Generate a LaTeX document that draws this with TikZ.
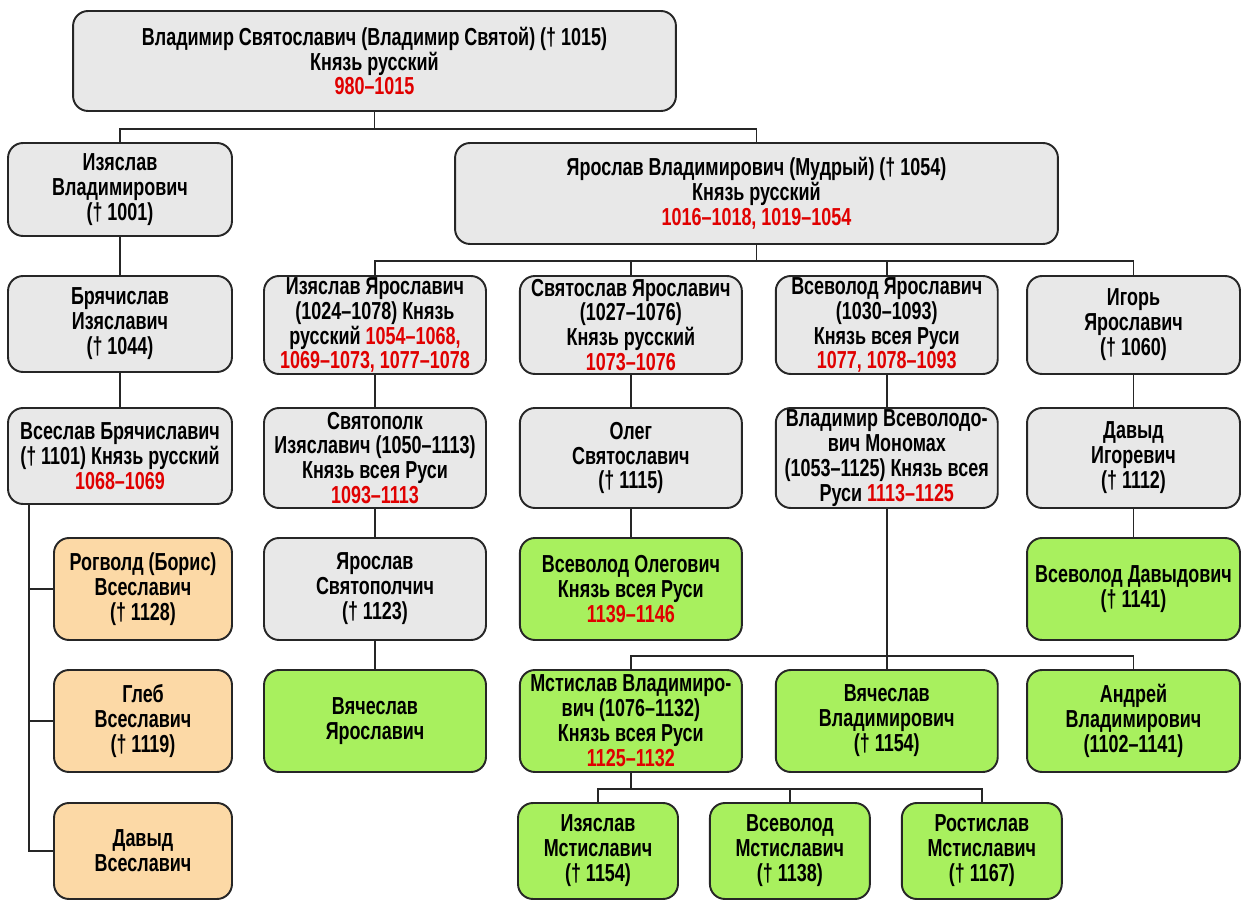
\documentclass[tikz,border=0pt]{standalone}
\usepackage{fontspec}
\setmainfont{Liberation Sans}[FakeStretch=0.73]
\usepackage{tikz}
\usetikzlibrary{positioning}
\definecolor{kinred}{HTML}{E00000}
\definecolor{kingrey}{HTML}{E8E8E8}
\definecolor{kinpeach}{HTML}{FCD9A6}
\definecolor{kingreen}{HTML}{A8F05E}
\definecolor{kinline}{HTML}{262626}
\newcommand{\reign}[1]{\textcolor{kinred}{#1}}

\begin{document}
\begin{tikzpicture}[
    x=0.02cm, y=-0.02cm,
    greybox/.style={rectangle, draw=kinline, fill=kingrey, line width=1.1pt, rounded corners=0.3cm, align=center, inner xsep=1pt, inner ysep=0pt, font=\bfseries\fontsize{14}{14.2}\selectfont},
    peachbox/.style={greybox, fill=kinpeach},
    greenbox/.style={greybox, fill=kingreen},
    link/.style={draw=kinline, line width=1.1pt}
]
\useasboundingbox (0,0) rectangle (1244,901);

% Row 1: Vladimir
\node[greybox, minimum width=12.06cm, minimum height=2cm] (vlad) at (374.5,61) {Владимир Святославич (Владимир Святой) († 1015)\\Князь русский\\\reign{980–1015}};

% Row 2: his sons
\node[greybox, minimum width=4.48cm, minimum height=1.86cm] (izV) at (120,189.5) {Изяслав\\Владимирович\\(† 1001)};
\node[greybox, minimum width=12.06cm, minimum height=2.02cm] (yar) at (756.5,193.5) {Ярослав Владимирович (Мудрый) († 1054)\\Князь русский\\\reign{1016–1018, 1019–1054}};

% Row 3
\node[greybox, minimum width=4.48cm, minimum height=1.92cm] (bry) at (120,324) {Брячислав\\Изяславич\\(† 1044)};
\node[greybox, minimum width=4.44cm, minimum height=1.96cm] (izYa) at (375,325) {Изяслав Ярославич\\(1024–1078) Князь\\русский \reign{1054–1068,}\\\reign{1069–1073, 1077–1078}};
\node[greybox, minimum width=4.44cm, minimum height=1.96cm, right=0.64cm of izYa] (svy) {Святослав Ярославич\\(1027–1076)\\Князь русский\\\reign{1073–1076}};
\node[greybox, minimum width=4.44cm, minimum height=1.96cm, right=0.64cm of svy] (vsev) {Всеволод Ярославич\\(1030–1093)\\Князь всея Руси\\\reign{1077, 1078–1093}};
\node[greybox, minimum width=4.26cm, minimum height=1.96cm] (igor) at (1133.5,325) {Игорь\\Ярославич\\(† 1060)};

% Row 4
\node[greybox, minimum width=4.48cm, minimum height=1.92cm] (vses) at (120,456) {Всеслав Брячиславич\\(† 1101) Князь русский\\\reign{1068–1069}};
\node[greybox, minimum width=4.44cm, minimum height=2cm] (svp) at (375,458) {Святополк\\Изяславич (1050–1113)\\Князь всея Руси\\\reign{1093–1113}};
\node[greybox, minimum width=4.44cm, minimum height=2cm, right=0.64cm of svp] (oleg) {Олег\\Святославич\\(† 1115)};
\node[greybox, minimum width=4.44cm, minimum height=2cm, right=0.64cm of oleg] (mono) {Владимир Всеволодо-\\вич Мономах\\(1053–1125) Князь всея\\Руси \reign{1113–1125}};
\node[greybox, minimum width=4.26cm, minimum height=2cm] (davI) at (1133.5,458) {Давыд\\Игоревич\\(† 1112)};

% Row 5
\node[peachbox, minimum width=3.56cm, minimum height=2.04cm] (rog) at (143,589) {Рогволд (Борис)\\Всеславич\\(† 1128)};
\node[greybox, minimum width=4.44cm, minimum height=2.04cm] (yarS) at (375,589) {Ярослав\\Святополчич\\(† 1123)};
\node[greenbox, minimum width=4.44cm, minimum height=2.04cm, right=0.64cm of yarS] (vsO) {Всеволод Олегович\\Князь всея Руси\\\reign{1139–1146}};
\node[greenbox, minimum width=4.26cm, minimum height=2.04cm] (vsD) at (1133.5,589) {Всеволод Давыдович\\(† 1141)};

% Row 6
\node[peachbox, minimum width=3.56cm, minimum height=2.04cm] (gleb) at (143,721) {Глеб\\Всеславич\\(† 1119)};
\node[greenbox, minimum width=4.44cm, minimum height=2.04cm] (vyaY) at (375,721) {Вячеслав\\Ярославич};
\node[greenbox, minimum width=4.44cm, minimum height=2.04cm, right=0.64cm of vyaY] (msti) {Мстислав Владимиро-\\вич (1076–1132)\\Князь всея Руси\\\reign{1125–1132}};
\node[greenbox, minimum width=4.44cm, minimum height=2.04cm, right=0.64cm of msti] (vyaV) {Вячеслав\\Владимирович\\(† 1154)};
\node[greenbox, minimum width=4.26cm, minimum height=2.04cm] (andr) at (1133.5,721) {Андрей\\Владимирович\\(1102–1141)};

% Row 7
\node[peachbox, minimum width=3.56cm, minimum height=1.92cm] (davV) at (143,851) {Давыд\\Всеславич};
\node[greenbox, minimum width=3.2cm, minimum height=1.92cm] (izM) at (598,851) {Изяслав\\Мстиславич\\(† 1154)};
\node[greenbox, minimum width=3.2cm, minimum height=1.92cm, right=0.6cm of izM] (vsM) {Всеволод\\Мстиславич\\(† 1138)};
\node[greenbox, minimum width=3.2cm, minimum height=1.92cm, right=0.6cm of vsM] (rosM) {Ростислав\\Мстиславич\\(† 1167)};

% Connectors from Vladimir and Yaroslav
\draw[link] (vlad.south) -- ++(0,17) -| (izV.north);
\draw[link] (vlad.south) -- ++(0,17) -| (yar.north);
\foreach \kid in {izYa, svy, vsev, igor}
    \draw[link] (yar.south) -- ++(0,16) -| (\kid.north);

% Straight lines down the columns
\draw[link] (izV) -- (bry);
\draw[link] (bry) -- (vses);
\draw[link] (izYa) -- (svp);
\draw[link] (svp) -- (yarS);
\draw[link] (yarS) -- (vyaY);
\draw[link] (svy) -- (oleg);
\draw[link] (oleg) -- (vsO);
\draw[link] (vsev) -- (mono);
\draw[link] (igor) -- (davI);
\draw[link] (davI) -- (vsD);

% Vseslav's sons
\foreach \kid in {rog, gleb, davV}
    \draw[link] ([xshift=0.44cm]vses.south west) |- (\kid.west);

% Monomakh's sons
\foreach \kid in {msti, vyaV, andr}
    \draw[link] (mono.south) -- ++(0,147) -| (\kid.north);

% Mstislav's sons
\foreach \kid in {izM, vsM, rosM}
    \draw[link] (msti.south) -- ++(0,16) -| (\kid.north);

\end{tikzpicture}
\end{document}
